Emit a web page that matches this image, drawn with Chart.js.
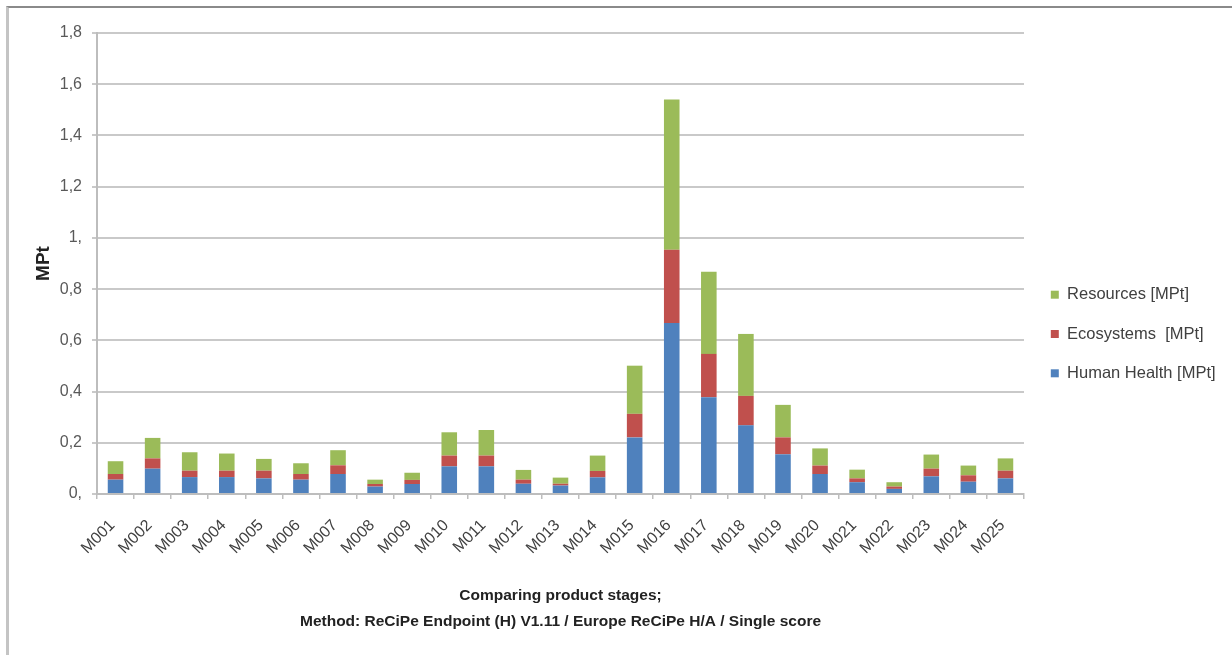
<!DOCTYPE html>
<html>
<head>
<meta charset="utf-8">
<script src="https://cdn.jsdelivr.net/npm/chart.js@4/dist/chart.umd.min.js"></script>
<style>
  html, body { margin: 0; padding: 0; background: #ffffff; }
  #wrap { position: relative; width: 1232px; height: 655px; overflow: hidden; }
  #frame { position: absolute; left: 6px; top: 6px; right: 0; bottom: 0;
           border-top: 2px solid #8a8a8a; border-left: 3px solid #c4c4c4; }
  #c { position: absolute; left: 0; top: 0; }
</style>
</head>
<body>
<div id="wrap">
  <div id="frame"></div>
  <canvas id="c" width="1232" height="655"></canvas>
</div>
<script>
// ---- Data (MPt) ----
const categories = ['M001','M002','M003','M004','M005','M006','M007','M008','M009','M010',
                    'M011','M012','M013','M014','M015','M016','M017','M018','M019','M020',
                    'M021','M022','M023','M024','M025'];
const humanHealth = [0.056,0.099,0.066,0.066,0.061,0.056,0.078,0.029,0.039,0.108,
                     0.108,0.040,0.033,0.065,0.221,0.668,0.378,0.268,0.155,0.078,
                     0.046,0.020,0.069,0.048,0.061];
const ecosystems  = [0.022,0.040,0.025,0.025,0.030,0.022,0.034,0.010,0.016,0.042,
                     0.042,0.016,0.007,0.025,0.092,0.286,0.169,0.115,0.066,0.033,
                     0.015,0.009,0.030,0.025,0.030];
const resources   = [0.050,0.080,0.072,0.067,0.046,0.042,0.059,0.017,0.028,0.091,
                     0.100,0.038,0.024,0.060,0.188,0.586,0.321,0.242,0.127,0.067,
                     0.034,0.017,0.055,0.038,0.048];
const seriesNames = ['Human Health [MPt]', 'Ecosystems  [MPt]', 'Resources [MPt]'];
const yTickLabels = ['0,','0,2','0,4','0,6','0,8','1,','1,2','1,4','1,6','1,8'];
const yAxisTitle = 'MPt';
const xAxisTitle = ['Comparing product stages;',
                    'Method: ReCiPe Endpoint (H) V1.11 / Europe ReCiPe H/A / Single score'];

const FONT = "'Liberation Sans', Arial, sans-serif";

// nudge the legend a few pixels right and widen its clip box to the canvas edge
const legendShift = {
  id: 'legendShift',
  afterLayout(chart) {
    const lg = chart.legend;
    if (lg) { lg.left += 4; lg.right = chart.width; lg.width = lg.right - lg.left; }
  }
};

new Chart(document.getElementById('c'), {
  type: 'bar',
  data: {
    labels: categories,
    datasets: [
      { label: seriesNames[0], data: humanHealth, backgroundColor: '#4F81BD' },
      { label: seriesNames[1], data: ecosystems,  backgroundColor: '#C0504D' },
      { label: seriesNames[2], data: resources,   backgroundColor: '#9BBB59' }
    ]
  },
  options: {
    responsive: false,
    animation: false,
    devicePixelRatio: 1,
    datasets: { bar: { categoryPercentage: 1.0, barPercentage: 0.42 } },
    layout: { padding: { left: 10, top: 33, right: 28, bottom: 20 } },
    plugins: {
      tooltip: { enabled: false },
      legend: {
        position: 'right',
        reverse: true,
        maxWidth: 180,
        labels: {
          boxWidth: 8, boxHeight: 8, padding: 22.8,
          color: '#404040',
          font: { family: FONT, size: 16.5 }
        }
      }
    },
    scales: {
      x: {
        stacked: true,
        afterFit(scale) { scale.height = 141; },
        grid: { display: true, drawOnChartArea: false, drawTicks: true, tickLength: 5,
                color: '#bdbdbd', lineWidth: 1.5, offset: true },
        border: { display: true, color: '#bdbdbd', width: 2 },
        ticks: { autoSkip: false, minRotation: 45, maxRotation: 45, padding: 17,
                 labelOffset: -3, color: '#404040', font: { family: FONT, size: 16 } },
        title: { display: true, text: xAxisTitle, color: '#222222',
                 font: { family: FONT, size: 15.5, weight: 'bold', lineHeight: '26px' },
                 padding: { top: 0, bottom: 0 } }
      },
      y: {
        stacked: true,
        min: 0, max: 1.8,
        afterFit(scale) { scale.width = 87; },
        ticks: { stepSize: 0.2, padding: 10, color: '#595959',
                 font: { family: FONT, size: 16 },
                 callback: (v, i) => yTickLabels[i] },
        grid: { color: '#c9c9c9', lineWidth: 2, drawTicks: true, tickLength: 5 },
        border: { display: true, color: '#bdbdbd', width: 2 },
        title: { display: true, text: yAxisTitle, color: '#222222',
                 font: { family: FONT, size: 19, weight: 'bold' },
                 padding: { top: 22, bottom: 0 } }
      }
    }
  },
  plugins: [legendShift]
});
</script>
</body>
</html>
